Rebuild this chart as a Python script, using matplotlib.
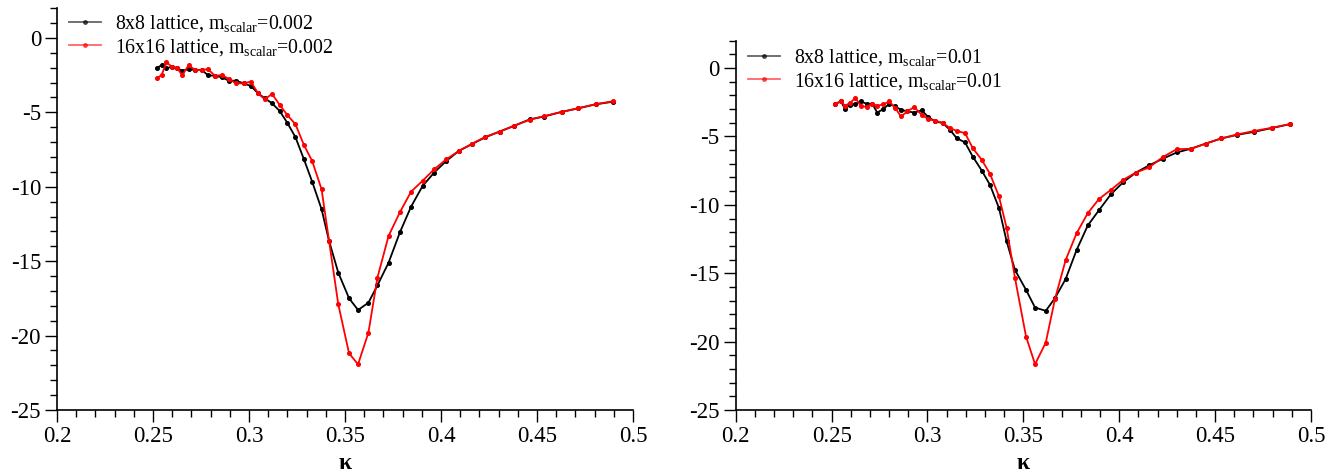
import matplotlib
matplotlib.use("Agg")
import matplotlib.pyplot as plt
from matplotlib.ticker import MultipleLocator

plt.rcParams["font.family"] = ["Liberation Serif", "DejaVu Serif"]
plt.rcParams["mathtext.fontset"] = "custom"
plt.rcParams["mathtext.rm"] = "Liberation Serif"
plt.rcParams["mathtext.it"] = "Liberation Serif:italic"
plt.rcParams["mathtext.bf"] = "Liberation Serif:bold"

# ---- m_scalar = 0.002 ----
kappa_a = [0.2520, 0.2545, 0.2570, 0.2598, 0.2624, 0.2653, 0.2685, 0.2720,
           0.2754, 0.2786, 0.2824, 0.2859, 0.2894, 0.2932, 0.2972, 0.3010,
           0.3047, 0.3082, 0.3120, 0.3160, 0.3199, 0.3242, 0.3286, 0.3329,
           0.3378, 0.3417, 0.3465, 0.3521, 0.3568, 0.3622, 0.3669, 0.3727,
           0.3786, 0.3844, 0.3904, 0.3964, 0.4027, 0.4093, 0.4163, 0.4230,
           0.4305, 0.4380, 0.4462, 0.4537, 0.4628, 0.4715, 0.4805, 0.4898]
lat8_a = [-2.00, -1.84, -2.04, -1.93, -2.02, -2.20, -2.10, -2.15,
          -2.15, -2.50, -2.55, -2.64, -2.87, -2.87, -3.05, -3.23,
          -3.72, -4.05, -4.39, -4.91, -5.69, -6.67, -8.15, -9.66,
          -11.51, -13.64, -15.77, -17.49, -18.28, -17.79, -16.62, -15.10,
          -13.06, -11.34, -9.95, -9.05, -8.27, -7.59, -7.12, -6.68,
          -6.29, -5.91, -5.47, -5.28, -4.97, -4.73, -4.46, -4.28]
lat16_a = [-2.71, -2.49, -1.63, -1.93, -2.02, -2.49, -1.84, -2.15,
           -2.15, -2.10, -2.55, -2.49, -2.75, -3.05, -3.05, -2.93,
           -3.72, -4.12, -3.76, -4.50, -5.17, -5.80, -7.19, -8.27,
           -10.17, -13.64, -17.90, -21.19, -21.93, -19.80, -16.10, -13.30,
           -11.71, -10.33, -9.60, -8.83, -8.16, -7.59, -7.10, -6.65,
           -6.30, -5.90, -5.50, -5.25, -4.97, -4.72, -4.45, -4.25]

# ---- m_scalar = 0.01 ----
kappa_b = [0.2518, 0.2549, 0.2570, 0.2596, 0.2624, 0.2652, 0.2683, 0.2712,
           0.2738, 0.2770, 0.2801, 0.2831, 0.2862, 0.2895, 0.2931, 0.2970,
           0.3004, 0.3039, 0.3079, 0.3117, 0.3152, 0.3196, 0.3236, 0.3283,
           0.3326, 0.3373, 0.3413, 0.3456, 0.3514, 0.3561, 0.3617, 0.3665,
           0.3721, 0.3778, 0.3836, 0.3894, 0.3957, 0.4021, 0.4087, 0.4155,
           0.4227, 0.4300, 0.4374, 0.4452, 0.4531, 0.4616, 0.4704, 0.4795,
           0.4890]
lat8_b = [-2.63, -2.44, -2.98, -2.68, -2.63, -2.44, -2.61, -2.61,
          -3.25, -3.00, -2.61, -2.81, -3.05, -3.17, -3.25, -3.10,
          -3.58, -3.90, -4.02, -4.51, -5.12, -5.44, -6.47, -7.49,
          -8.54, -10.24, -12.68, -14.75, -16.22, -17.51, -17.75, -16.82,
          -15.41, -13.29, -11.51, -10.40, -9.22, -8.34, -7.64, -7.12,
          -6.63, -6.17, -5.90, -5.52, -5.15, -4.88, -4.66, -4.39,
          -4.10]
lat16_b = [-2.60, -2.44, -2.76, -2.55, -2.19, -2.76, -2.85, -2.60,
           -2.76, -2.65, -2.44, -2.90, -3.54, -3.17, -2.85, -3.42,
           -3.73, -3.85, -4.00, -4.39, -4.59, -4.76, -5.85, -6.71,
           -7.73, -9.39, -11.70, -15.32, -19.63, -21.65, -20.07, -16.88,
           -14.02, -12.07, -10.61, -9.58, -8.90, -8.17, -7.64, -7.27,
           -6.51, -5.93, -5.90, -5.52, -5.15, -4.85, -4.60, -4.37,
           -4.10]

x_ticks = [0.2, 0.25, 0.3, 0.35, 0.4, 0.45, 0.5]
x_ticklabels = ["0.2", "0.25", "0.3", "0.35", "0.4", "0.45", "0.5"]
y_ticks = [0, -5, -10, -15, -20, -25]
y_ticklabels = ["0", "-5", "-10", "-15", "-20", "-25"]

W, H = 1340, 476
fig = plt.figure(figsize=(W / 100, H / 100), dpi=100)


def px_axes(x0, x1, y_top, y_bot):
    return fig.add_axes([x0 / W, 1 - y_bot / H, (x1 - x0) / W, (y_bot - y_top) / H])


panels = [
    (px_axes(57, 633, 8.2, 410), kappa_a, lat8_a, lat16_a, "0.002", (69, 13)),
    (px_axes(735.7, 1311, 40.7, 410), kappa_b, lat8_b, lat16_b, "0.01", (748, 47)),
]

for ax, k, y8, y16, m, (lx, ly) in panels:
    ax.plot(k, y8, color="black", lw=1.3, marker="o", ms=2.6,
            label=r"8x8 lattice, m$_{\mathrm{scalar}}$=" + m)
    ax.plot(k, y16, color="#ff0000", lw=1.3, marker="o", ms=2.6,
            label=r"16x16 lattice, m$_{\mathrm{scalar}}$=" + m)
    ax.set_xlim(0.2, 0.5)
    ax.set_ylim(-25, 2)
    ax.set_xticks(x_ticks)
    ax.set_xticklabels(x_ticklabels)
    ax.set_yticks(y_ticks)
    ax.set_yticklabels(y_ticklabels)
    ax.xaxis.set_minor_locator(MultipleLocator(0.01))
    ax.yaxis.set_minor_locator(MultipleLocator(1))
    for side in ("top", "right"):
        ax.spines[side].set_visible(False)
    for side in ("left", "bottom"):
        ax.spines[side].set_linewidth(1.2)
    ax.tick_params(which="major", direction="out", length=8.5, width=1.0,
                   labelsize=16.5, pad=3)
    ax.tick_params(which="minor", direction="out", length=5, width=1.0)
    ax.set_xlabel("κ", fontsize=17, fontweight="bold", labelpad=4)
    leg = ax.legend(loc="upper left", bbox_to_anchor=(lx / W, 1 - ly / H),
                    bbox_transform=fig.transFigure, frameon=False,
                    fontsize=14.3, borderpad=0, borderaxespad=0,
                    handlelength=1.6, handletextpad=0.7, labelspacing=0.15)
    for line in leg.get_lines():
        line.set_alpha(0.6)

fig.savefig("out.png", dpi=100)
